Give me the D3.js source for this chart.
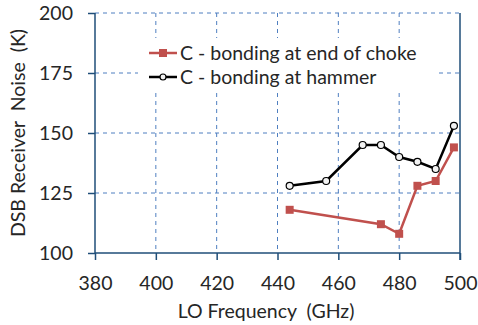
<!DOCTYPE html>
<html>
<head>
<meta charset="utf-8">
<script src="https://cdn.jsdelivr.net/npm/d3@7"></script>
<style>
  body { margin: 0; background: #fff; }
  text { font-family: Lato, "Open Sans", sans-serif; fill: #262626; white-space: pre; }
</style>
</head>
<body>
<svg id="chart" width="478" height="325"></svg>
<script>
const xTicks = [380, 400, 420, 440, 460, 480, 500];
const yTicks = [100, 125, 150, 175, 200];

const chokeFreq = [444, 474, 480, 486, 492, 498];
const chokeNoise = [118, 112, 108, 128, 130, 144];

const hammerFreq = [444, 456, 468, 474, 480, 486, 492, 498];
const hammerNoise = [128, 130, 145, 145, 140, 138, 135, 153];

const seriesNames = ["C - bonding at end of choke", "C - bonding at hammer"];

const svg = d3.select("#chart");
const plotL = 95, plotR = 460, plotT = 13, plotB = 253;

const x = d3.scaleLinear().domain([380, 500]).range([plotL, plotR]);
const y = d3.scaleLinear().domain([100, 200]).range([plotB, plotT]);

const axisColor = "#1f4e79";
const gridColor = "#4f7fc0";

// grid
svg.append("g")
  .selectAll("line")
  .data(xTicks.slice(1, -1))
  .enter().append("line")
  .attr("x1", d => x(d)).attr("x2", d => x(d))
  .attr("y1", plotT).attr("y2", plotB)
  .attr("stroke", gridColor).attr("stroke-width", 1)
  .attr("stroke-dasharray", "4,4");

svg.append("g")
  .selectAll("line")
  .data(yTicks.slice(1))
  .enter().append("line")
  .attr("x1", plotL).attr("x2", plotR)
  .attr("y1", d => y(d)).attr("y2", d => y(d))
  .attr("stroke", gridColor).attr("stroke-width", 1)
  .attr("stroke-dasharray", "4,4");

// right border
svg.append("line")
  .attr("x1", plotR).attr("x2", plotR)
  .attr("y1", plotT).attr("y2", plotB + 7)
  .attr("stroke", axisColor).attr("stroke-width", 1.5);

// axes
const xAxis = svg.append("g")
  .attr("transform", `translate(0,${plotB})`)
  .call(d3.axisBottom(x).tickValues(xTicks).tickSize(7).tickPadding(16));
const yAxis = svg.append("g")
  .attr("transform", `translate(${plotL},0)`)
  .call(d3.axisLeft(y).tickValues(yTicks).tickSize(7).tickPadding(15));

[xAxis, yAxis].forEach(a => {
  a.select(".domain").attr("stroke", axisColor).attr("stroke-width", 1.5);
  a.selectAll(".tick line").attr("stroke", axisColor).attr("stroke-width", 1.5);
  a.selectAll(".tick text")
    .attr("font-family", "Lato, sans-serif")
    .attr("font-size", 19.5)
    .attr("fill", "#262626");
});
xAxis.select(".domain").attr("d", `M${plotL},0H${plotR}`);
yAxis.select(".domain").attr("d", `M0,${plotB}V${plotT}`);

// legend background
svg.append("rect")
  .attr("x", 138).attr("y", 38).attr("width", 299).attr("height", 52)
  .attr("fill", "#fff");

const line = d3.line().x(d => x(d[0])).y(d => y(d[1]));

const choke = d3.zip(chokeFreq, chokeNoise);
const hammer = d3.zip(hammerFreq, hammerNoise);

svg.append("path").datum(choke)
  .attr("d", line).attr("fill", "none")
  .attr("stroke", "#c0504d").attr("stroke-width", 2.5);
svg.selectAll(".sq").data(choke).enter().append("rect")
  .attr("x", d => x(d[0]) - 4).attr("y", d => y(d[1]) - 4)
  .attr("width", 8).attr("height", 8)
  .attr("fill", "#c0504d");

svg.append("path").datum(hammer)
  .attr("d", line).attr("fill", "none")
  .attr("stroke", "#000").attr("stroke-width", 2.5);
svg.selectAll(".ci").data(hammer).enter().append("circle")
  .attr("cx", d => x(d[0])).attr("cy", d => y(d[1])).attr("r", 3.5)
  .attr("fill", "#f2f2f2").attr("stroke", "#000").attr("stroke-width", 1.2);

// legend
const leg = svg.append("g");
[0, 1].forEach(i => {
  const ly = 53 + i * 24;
  const col = i === 0 ? "#c0504d" : "#000";
  leg.append("line")
    .attr("x1", 149).attr("x2", 177).attr("y1", ly).attr("y2", ly)
    .attr("stroke", col).attr("stroke-width", 2.5);
  if (i === 0) {
    leg.append("rect").attr("x", 159).attr("y", ly - 4)
      .attr("width", 8).attr("height", 8).attr("fill", col);
  } else {
    leg.append("circle").attr("cx", 163).attr("cy", ly).attr("r", 3)
      .attr("fill", "#f2f2f2").attr("stroke", col).attr("stroke-width", 1.2);
  }
  leg.append("text")
    .attr("x", 180).attr("y", ly + 7)
    .attr("font-size", 19.5)
    .text(seriesNames[i]);
});

// axis titles
svg.append("text")
  .attr("x", 266).attr("y", 318)
  .attr("text-anchor", "middle")
  .attr("font-size", 19.5)
  .text("LO Frequency  (GHz)");

svg.append("text")
  .attr("transform", `translate(25,133) rotate(-90)`)
  .attr("text-anchor", "middle")
  .attr("font-size", 19.5)
  .text("DSB Receiver  Noise  (K)");
</script>
</body>
</html>
